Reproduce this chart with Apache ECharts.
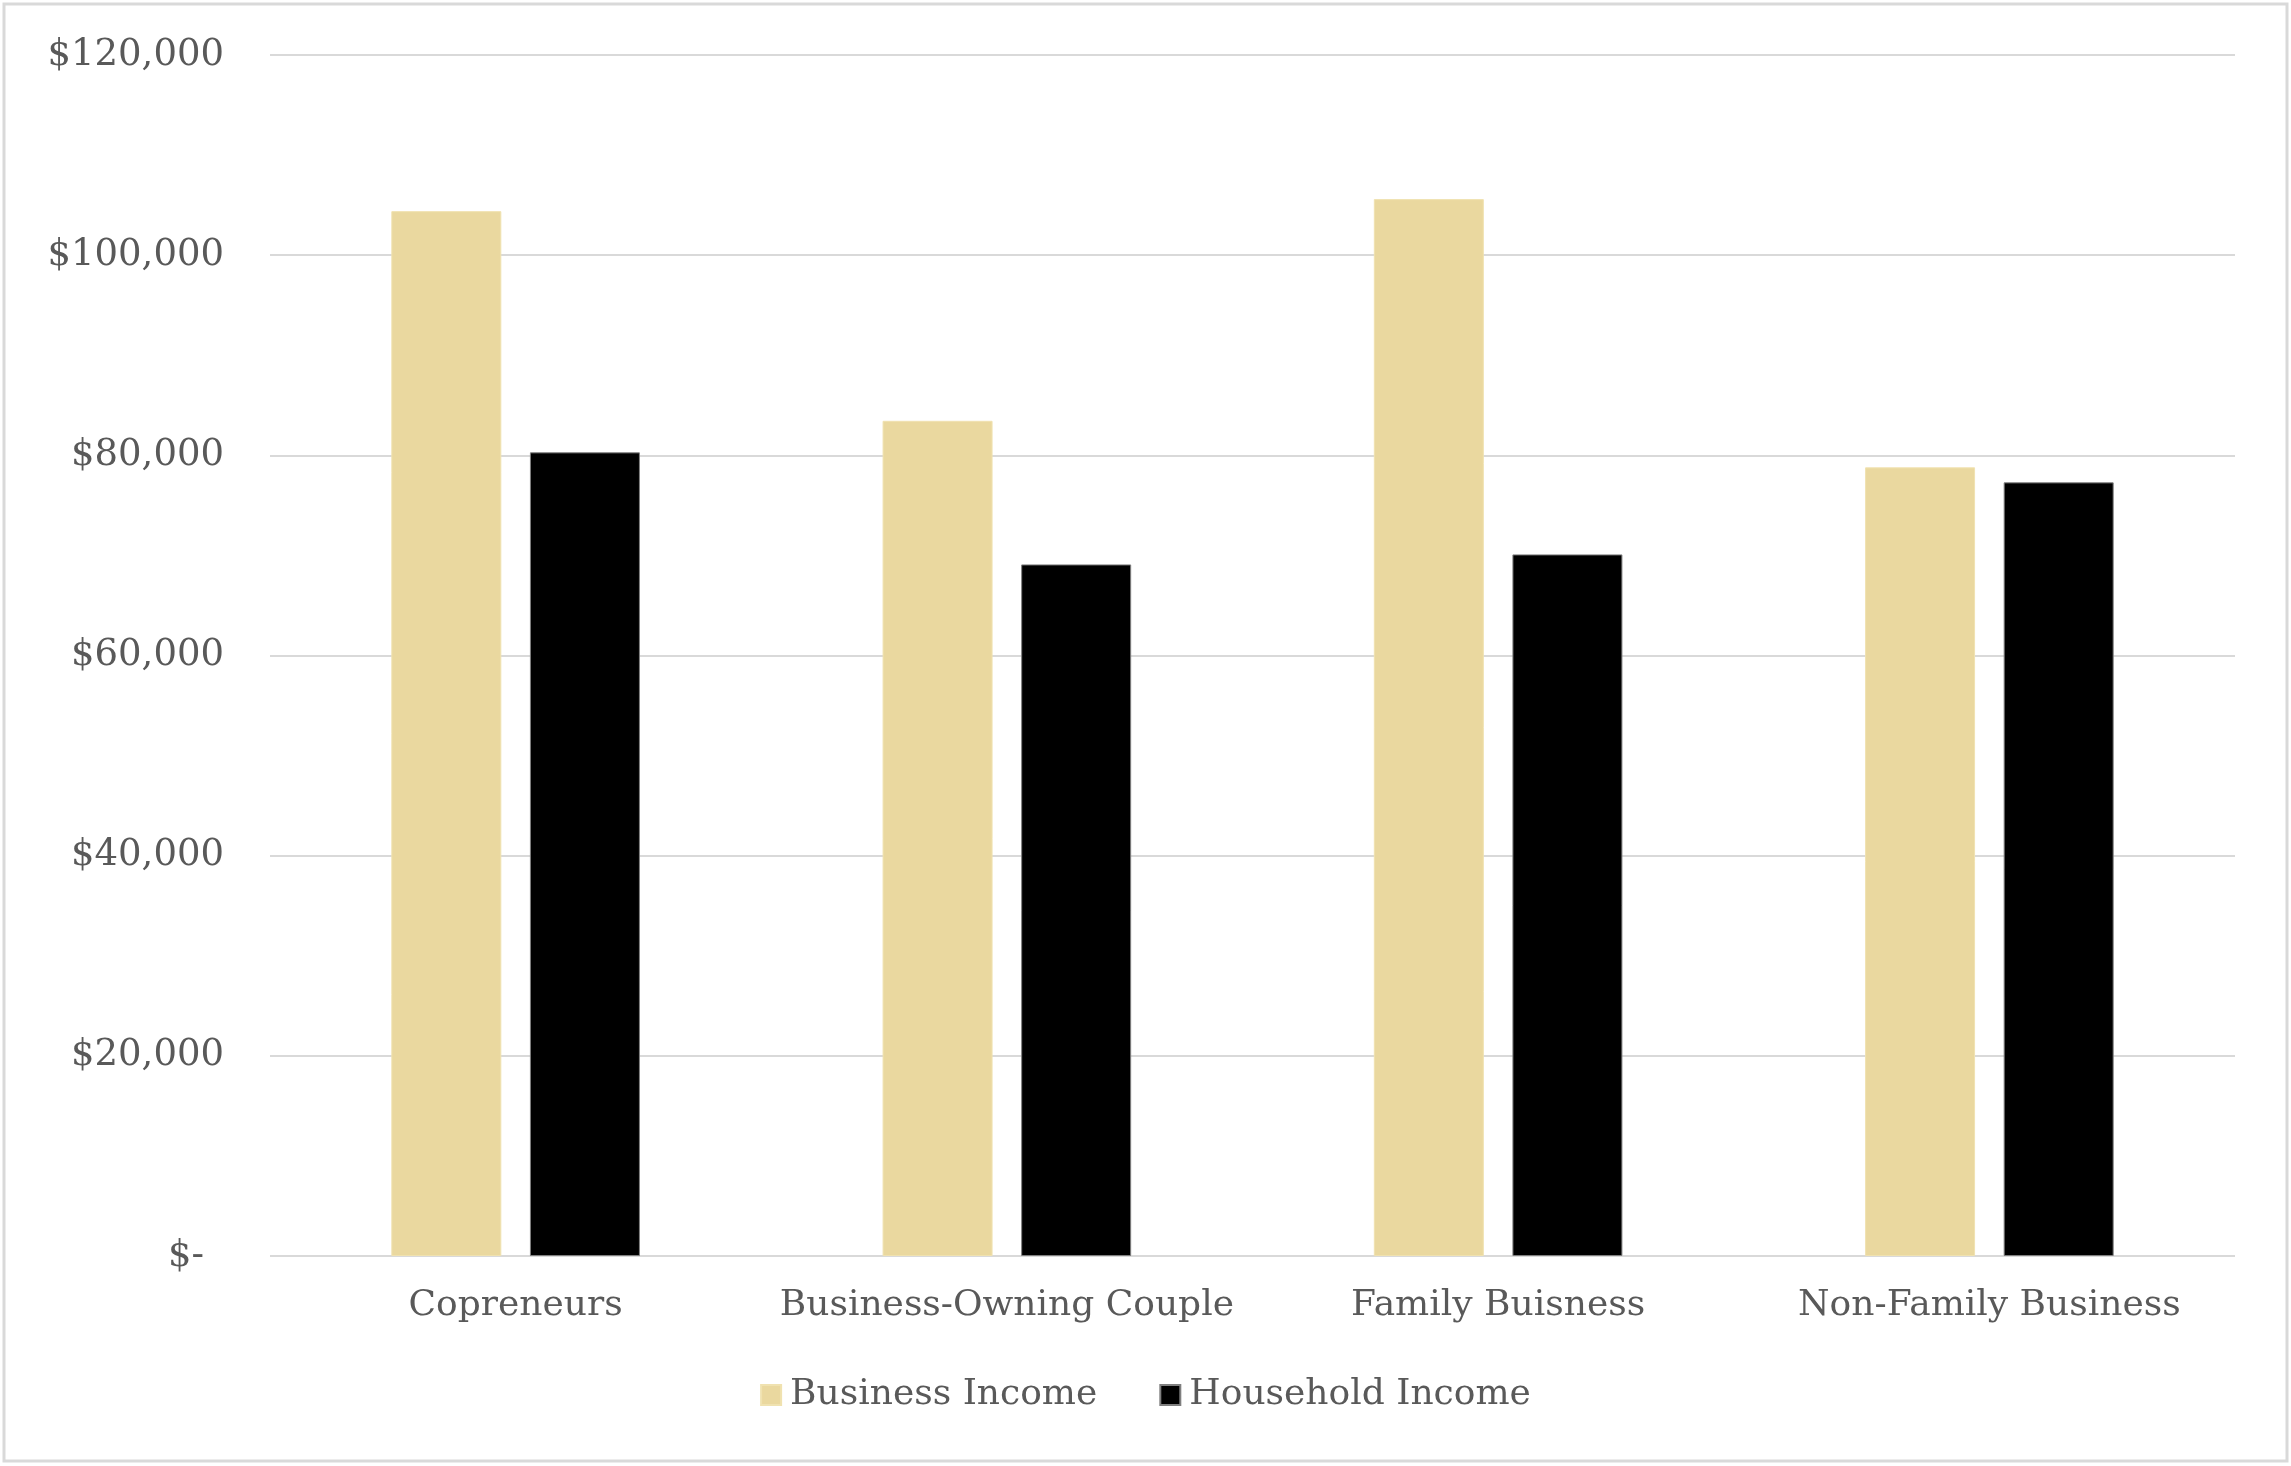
<!DOCTYPE html>
<html>
<head>
<meta charset="utf-8">
<script src="https://cdn.jsdelivr.net/npm/echarts@6/dist/echarts.min.js"></script>
<style>
  html, body { margin: 0; padding: 0; background: #ffffff; }
  #chart { width: 2291px; height: 1466px; }
</style>
</head>
<body>
<div id="chart"></div>
<script>
// ---- data ----
const categories = ["Copreneurs", "Business-Owning Couple", "Family Buisness", "Non-Family Business"];
const seriesNames = ["Business Income", "Household Income"];
const businessIncome = [104400, 83450, 105600, 78800];
const householdIncome = [80300, 69100, 70100, 77300];
const yMin = 0, yMax = 120000, yInterval = 20000;

const FONT = "DejaVu Serif";
const TEXT = "#595959";

const chart = echarts.init(document.getElementById('chart'), null, { renderer: 'canvas' });

function money(v) {
  if (v === 0) return '{z|$-}';
  return '$' + v.toLocaleString('en-US');
}

chart.setOption({
  animation: false,
  backgroundColor: '#ffffff',
  graphic: [{
    type: 'rect',
    shape: { x: 4, y: 4, width: 2283, height: 1457 },
    style: { fill: 'none', stroke: '#D9D9D9', lineWidth: 3 },
    silent: true
  }],
  grid: { left: 270, right: 56, top: 55, bottom: 210, containLabel: false },
  legend: {
    data: seriesNames,
    left: 'center',
    top: 1372,
    itemWidth: 20,
    itemHeight: 20,
    itemGap: 62,
    icon: 'rect',
    textStyle: { fontFamily: FONT, fontSize: 36, color: TEXT, padding: [0, 0, 0, 4] }
  },
  xAxis: {
    type: 'category',
    data: categories,
    axisLine: { show: false },
    axisTick: { show: false },
    axisLabel: { fontFamily: FONT, fontSize: 36, color: TEXT, margin: 32, interval: 0 }
  },
  yAxis: {
    type: 'value',
    min: yMin, max: yMax, interval: yInterval,
    axisLine: { show: false },
    axisTick: { show: false },
    splitLine: { lineStyle: { color: '#D9D9D9', width: 2 } },
    axisLabel: {
      fontFamily: FONT, fontSize: 37, color: TEXT, margin: 46,
      formatter: money,
      rich: { z: { fontFamily: FONT, fontSize: 37, color: TEXT, padding: [0, 20, 0, 0] } }
    }
  },
  series: [
    {
      name: seriesNames[0], type: 'bar', data: businessIncome,
      barWidth: 110, barGap: '26%',
      itemStyle: { color: '#EAD89F', borderColor: '#F0E2B0', borderWidth: 1 }
    },
    {
      name: seriesNames[1], type: 'bar', data: householdIncome,
      barWidth: 110, barGap: '26%',
      itemStyle: { color: '#000000', borderColor: '#7f7f7f', borderWidth: 1 }
    }
  ]
});
</script>
</body>
</html>
